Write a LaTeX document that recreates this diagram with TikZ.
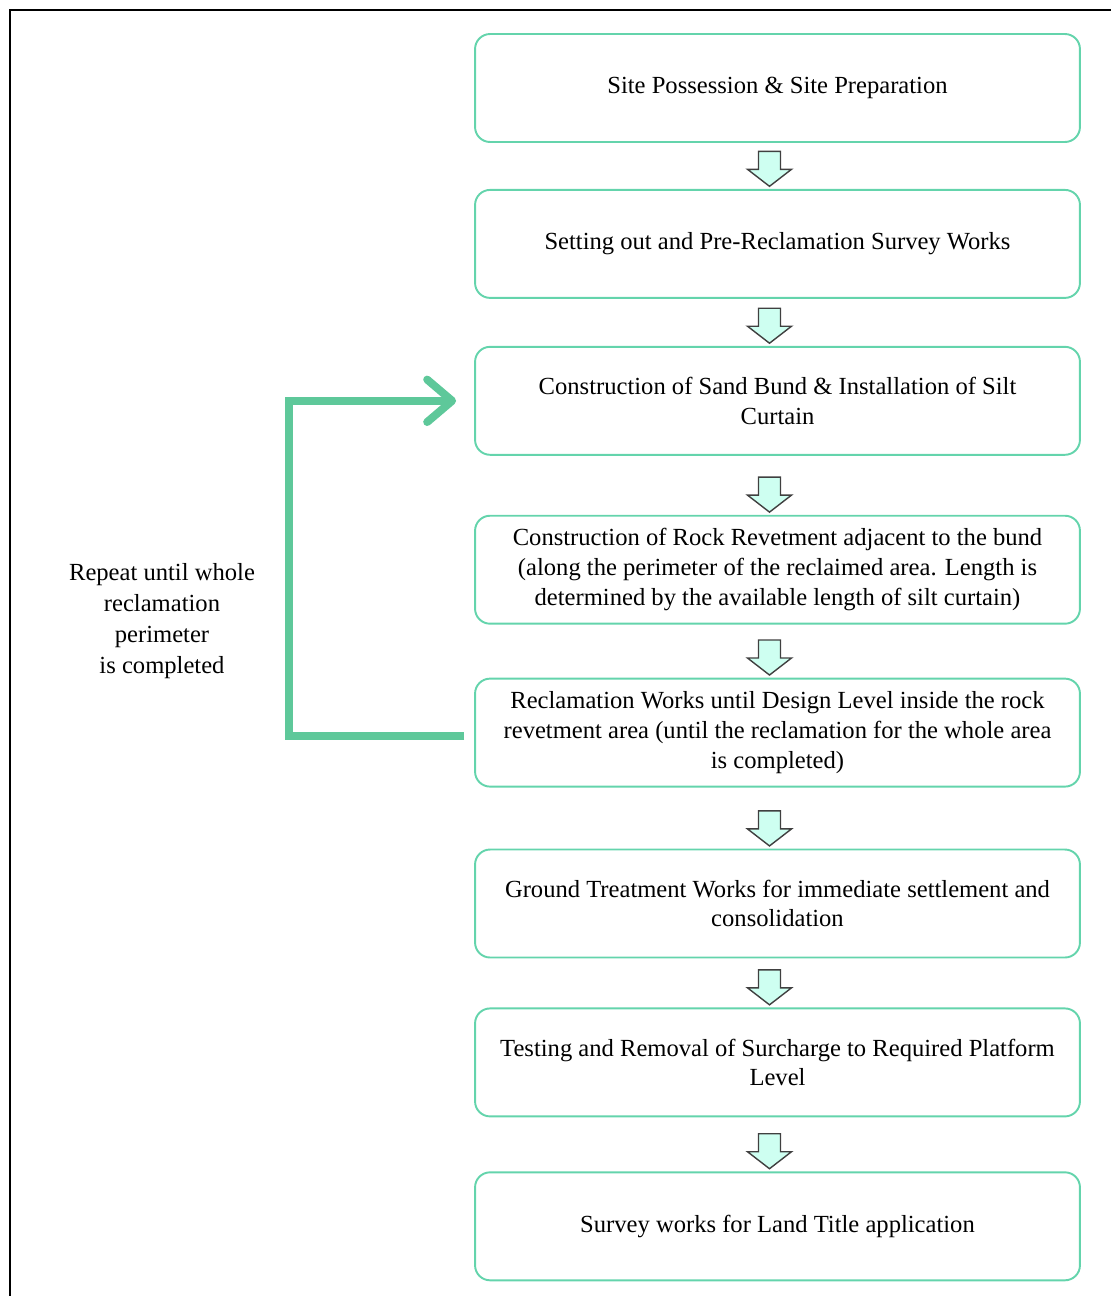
\documentclass[tikz,border=0pt]{standalone}
\usepackage{fontspec}
\setmainfont{Liberation Serif}
\usepackage{xcolor}
\usepackage{tikz}
\usetikzlibrary{arrows.meta,positioning}
\definecolor{boxline}{RGB}{100,212,172}
\definecolor{arrowfill}{RGB}{206,255,241}
\definecolor{loopgreen}{RGB}{94,200,154}

\begin{document}
\begin{tikzpicture}[x=0.02cm,y=-0.02cm,
box/.style={draw=boxline,line width=1.1pt,rounded corners=0.3cm,minimum width=12.1cm,minimum height=2.16cm,align=center,font=\fontsize{14}{17}\selectfont},
blockarrow/.style={draw=black!75,fill=arrowfill,line width=0.8pt,line join=miter},
loop/.style={draw=loopgreen,line width=4.5pt,-{Straight Barb[length=0.5cm,width=0.85cm,round]}}
]
\useasboundingbox (0,0) rectangle (1111,1296);
\draw[line width=1.1pt] (10,1300) -- (10,10) -- (1115,10);
\node[box] (b1) at (777.5,88) {Site Possession \& Site Preparation};
\node[box,below=0.92cm of b1] (b2) {Setting out and Pre-Reclamation Survey Works};
\node[box,below=0.94cm of b2] (b3) {Construction of Sand Bund \& Installation of Silt\\Curtain};
\node[box,below=1.18cm of b3] (b4) {Construction of Rock Revetment adjacent to the bund\\(along the perimeter of the reclaimed area. Length is\\determined by the available length of silt curtain)};
\node[box,below=1.06cm of b4] (b5) {Reclamation Works until Design Level inside the rock\\revetment area (until the reclamation for the whole area\\is completed)};
\node[box,below=1.22cm of b5] (b6) {Ground Treatment Works for immediate settlement and\\consolidation};
\node[box,below=0.98cm of b6] (b7) {Testing and Removal of Surcharge to Required Platform\\Level};
\node[box,below=1.08cm of b7] (b8) {Survey works for Land Title application};
\node[align=center,font=\fontsize{14}{17.5}\selectfont] (repeat) at (162,621) {Repeat until whole\\reclamation\\perimeter\\is completed};
% block arrows between the steps
\foreach \n in {2,...,8}
  \draw[blockarrow] ([xshift=-0.16cm,yshift=1.5pt]b\n.north) -- ++(22,-17) -- ++(-11,0) -- ++(0,-18) -- ++(-22,0) -- ++(0,18) -- ++(-11,0) -- cycle;
% repeat loop
\draw[loop] ([xshift=-0.2cm,yshift=-0.06cm]b5.west) -| ([xshift=-3.7cm]b3.west) -- ([xshift=-0.36cm]b3.west);
\end{tikzpicture}
\end{document}
